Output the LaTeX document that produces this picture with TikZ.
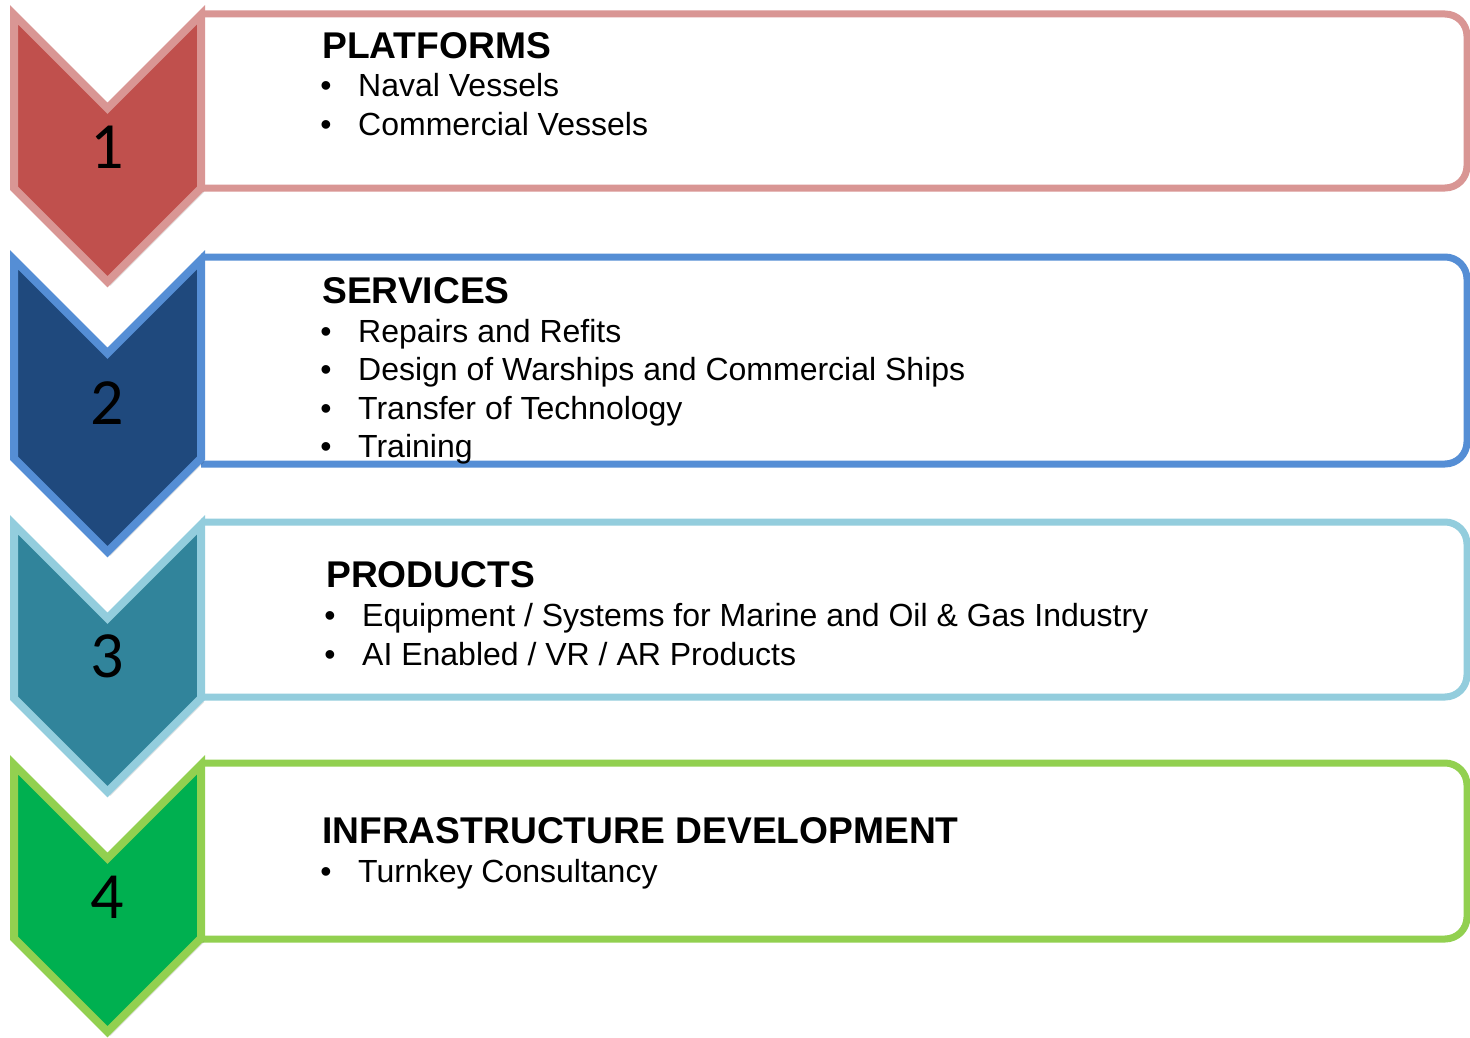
\documentclass[tikz,border=0pt]{standalone}
\usepackage{fontspec}
\setmainfont{Liberation Sans}
\newfontfamily\digitfont{Carlito}
\definecolor{redfill}{HTML}{C0504D}
\definecolor{redline}{HTML}{D99694}
\definecolor{bluefill}{HTML}{1F497D}
\definecolor{blueline}{HTML}{558ED5}
\definecolor{tealfill}{HTML}{31849B}
\definecolor{tealline}{HTML}{93CDDD}
\definecolor{greenfill}{HTML}{00B050}
\definecolor{greenline}{HTML}{92D050}
\newcommand{\mychev}[4]{%
  \fill[black,opacity=0.10,shift={(3,4)}] (14,#1+9.7) -- (107.5,#1+103.2) -- (201,#1+9.7) -- (201,#2-1.7) -- (107.5,#2+91.8) -- (14,#2-1.7) -- cycle;
  \fill[black,opacity=0.10,shift={(1.5,2)}] (14,#1+9.7) -- (107.5,#1+103.2) -- (201,#1+9.7) -- (201,#2-1.7) -- (107.5,#2+91.8) -- (14,#2-1.7) -- cycle;
  \draw[chevline,fill=#3,draw=#4] (14,#1+9.7) -- (107.5,#1+103.2) -- (201,#1+9.7) -- (201,#2-1.7) -- (107.5,#2+91.8) -- (14,#2-1.7) -- cycle;}
\newcommand{\mybox}[3]{%
  \draw[boxline,draw=#3] (201,#1) -- (1467,#1) -- (1467,#2) -- (201,#2);}
\begin{document}
\begin{tikzpicture}[x=1pt,y=-1pt,
  chevline/.style={line width=8pt,line join=miter},
  boxline/.style={line width=7pt,rounded corners=22pt},
  head/.style={anchor=base west,inner sep=0pt,font=\fontsize{37.2}{40}\selectfont\bfseries},
  item/.style={anchor=base west,inner sep=0pt,font=\fontsize{32}{36}\selectfont},
  bul/.style={anchor=base,inner sep=0pt,font=\fontsize{32}{36}\selectfont},
  num/.style={anchor=center,inner sep=0pt,font=\fontsize{66}{70}\digitfont}]
\useasboundingbox[fill=white] (0,0) rectangle (1470,1038);
% boxes
\mybox{14}{188}{redline}
\mybox{257}{464}{blueline}
\mybox{522}{697}{tealline}
\mybox{763}{939}{greenline}
% chevrons
\mychev{5}{190}{redfill}{redline}
\mychev{250}{460}{bluefill}{blueline}
\mychev{515}{700}{tealfill}{tealline}
\mychev{755}{940}{greenfill}{greenline}
% numbers
\node[num] (n1) at (107,147) {1};
\node[num] (n2) at (107,403) {2};
\node[num] (n3) at (107,656) {3};
\node[num] (n4) at (107,897) {4};
% section 1
\node[head] (h1) at (322,59) {PLATFORMS};
\node[bul] (b1a) at (326,97) {•};
\node[item] (t1a) at (358,97) {Naval Vessels};
\node[bul] (b1b) at (326,136) {•};
\node[item] (t1b) at (358,136) {Commercial Vessels};
% section 2
\node[head] (h2) at (322,303) {SERVICES};
\node[bul] (b2a) at (326,342) {•};
\node[item] (t2a) at (358,342) {Repairs and Refits};
\node[bul] (b2b) at (326,380) {•};
\node[item] (t2b) at (358,380) {Design of Warships and Commercial Ships};
\node[bul] (b2c) at (326,419) {•};
\node[item] (t2c) at (358,419) {Transfer of Technology};
\node[bul] (b2d) at (326,457) {•};
\node[item] (t2d) at (358,457) {Training};
% section 3
\node[head] (h3) at (326,587) {PRODUCTS};
\node[bul] (b3a) at (330,626) {•};
\node[item] (t3a) at (362,626) {Equipment / Systems for Marine and Oil \& Gas Industry};
\node[bul] (b3b) at (330,665) {•};
\node[item] (t3b) at (362,665) {AI Enabled / VR / AR Products};
% section 4
\node[head] (h4) at (322,843) {INFRASTRUCTURE DEVELOPMENT};
\node[bul] (b4a) at (326,882) {•};
\node[item] (t4a) at (358,882) {Turnkey Consultancy};
\end{tikzpicture}
\end{document}
